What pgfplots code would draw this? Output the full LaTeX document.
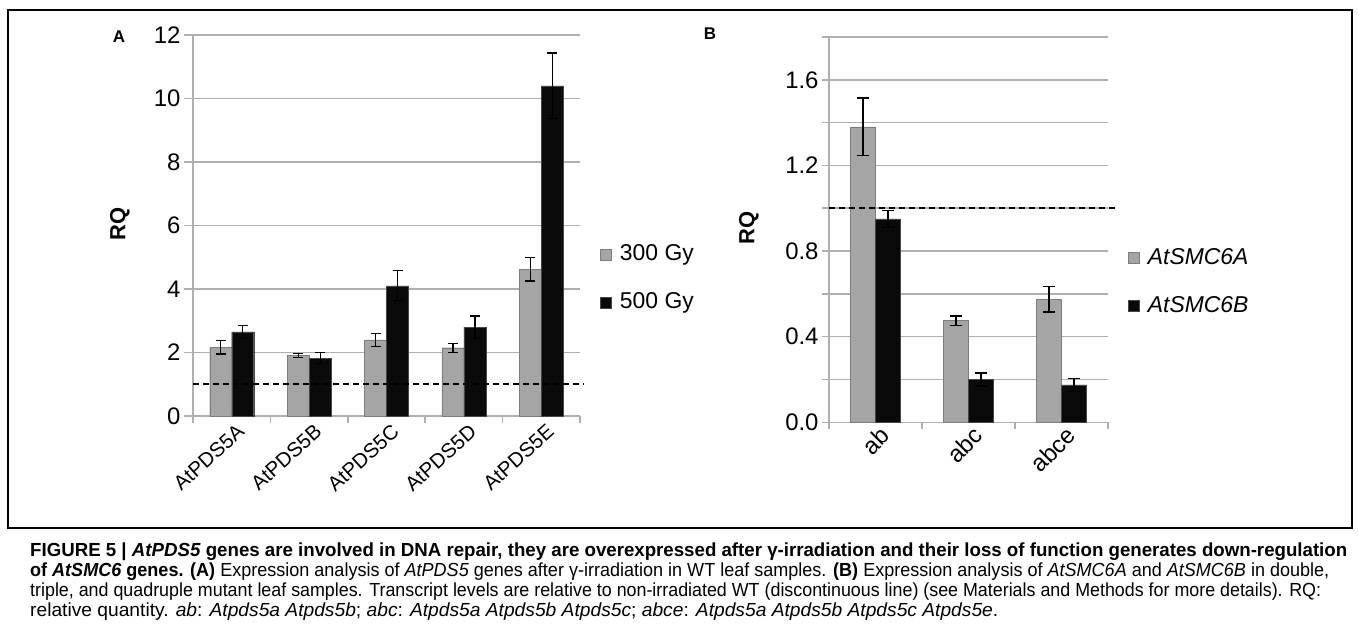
\documentclass[border=0pt]{standalone}
\usepackage{fontspec}
\setmainfont{Liberation Sans}
\usepackage{graphicx}
\usepackage{pgfplots}
\pgfplotsset{compat=1.18}
\usepackage{pgfplotstable}

\definecolor{barAedge}{RGB}{125,125,125}
\definecolor{barAfill}{RGB}{165,165,165}
\definecolor{barBedge}{RGB}{70,70,70}
\definecolor{barBfill}{RGB}{10,10,10}
\definecolor{gridc}{RGB}{175,175,175}

\pgfplotstableread{
x y300 e300 y500 e500
0 2.17 0.22 2.65 0.20
1 1.90 0.07 1.82 0.17
2 2.40 0.21 4.10 0.47
3 2.15 0.14 2.80 0.35
4 4.62 0.37 10.40 1.03
}\tabA

\pgfplotstableread{
x ya ea yb eb
0 1.38 0.135 0.95 0.04
1 0.475 0.022 0.20 0.03
2 0.575 0.06 0.175 0.03
}\tabB

\pgfplotsset{
  mystyle/.style={
    scale only axis,
    axis x line*=bottom, axis y line*=left,
    axis line style={gridc, line width=1.5bp, -},
    ymajorgrids,
    major grid style={gridc, line width=1.5bp},
    minor grid style={gridc, line width=1.5bp},
    tick style={gridc, line width=1.5bp},
    every major x tick/.append style={draw=none},
    tick align=outside,
    major tick length=9bp,
    minor tick length=7bp,
    ybar,
    clip=false,
    yticklabel style={font=\fontsize{24}{24}\selectfont},
    legend style={anchor=west, draw=none, fill=none, inner sep=0pt,
      font=\fontsize{23}{23}\selectfont, row sep=26bp,
      nodes={inner sep=0pt, text height=17bp, text depth=5bp},
      /tikz/every odd column/.append style={column sep=8bp}},
    legend cell align=left,
    legend image code/.code={\draw[#1, line width=0.6bp] (0bp,-5.5bp) rectangle (11bp,5.5bp);},
    ylabel style={font=\fontsize{22}{22}\selectfont\bfseries, anchor=center},
  },
  barA/.style={draw=barAedge, fill=barAfill},
  barB/.style={draw=barBedge, fill=barBfill},
  errA/.style={error bars/.cd, y dir=both, y explicit,
    error bar style={black, line width=1.2bp},
    error mark options={rotate=90, black, mark size=5bp, line width=1.2bp}},
  errB/.style={error bars/.cd, y dir=both, y explicit,
    error bar style={black, line width=1.2bp},
    error mark options={rotate=90, black, mark size=6bp, line width=1.2bp}},
}

\begin{document}
\begin{tikzpicture}[x=1bp,y=1bp]
\path[use as bounding box] (0,0) rectangle (1358,637);
\draw[line width=2bp] (8,109) rectangle (1352,627);

% Panel A
\begin{axis}[mystyle,
  at={(193bp,221bp)}, anchor=south west,
  width=387bp, height=381bp,
  xmin=-0.5, xmax=4.5, ymin=0, ymax=12,
  bar width=22bp,
  xtick={0,1,2,3,4},
  xticklabels={AtPDS5A,AtPDS5B,AtPDS5C,AtPDS5D,AtPDS5E},
  xticklabel style={rotate=42, anchor=north east, font=\fontsize{20.5}{20.5}\selectfont, xshift=8bp, yshift=2bp},
  minor xtick={-0.5,0.5,1.5,2.5,3.5,4.5},
  ytick={0,2,4,6,8,10,12},
  yticklabels={0,2,4,6,8,10,12},
  ylabel={RQ},
  ylabel style={at={(axis description cs:-0.189,0.504)}},
  legend style={at={(1.052,0.36)}},
]
\addplot[barA, bar shift=-11bp, errA] table[x=x, y=y300, y error=e300] {\tabA};
\addlegendentry{300 Gy}
\addplot[barB, bar shift=11bp, errA] table[x=x, y=y500, y error=e500] {\tabA};
\addlegendentry{500 Gy}
\addplot[sharp plot, black, line width=1.5bp, dash pattern=on 6bp off 4bp, forget plot] coordinates {(-0.5,1) (4.54,1)};
\end{axis}

% Panel B
\begin{axis}[mystyle,
  at={(829bp,214.7bp)}, anchor=south west,
  width=279bp, height=385.3bp,
  xmin=-0.5, xmax=2.5, ymin=0, ymax=1.8,
  bar width=25bp,
  major tick length=7bp,
  minor tick length=7bp,
  xtick={0,1,2},
  xticklabels={ab,abc,abce},
  xticklabel style={rotate=45, anchor=north east, font=\fontsize{24}{24}\selectfont, xshift=9bp, yshift=4bp},
  minor xtick={-0.5,0.5,1.5,2.5},
  ytick={0,0.4,0.8,1.2,1.6},
  yticklabels={0.0,0.4,0.8,1.2,1.6},
  minor ytick={0.2,0.6,1.0,1.4,1.8},
  yminorgrids,
  ylabel={RQ},
  ylabel style={at={(axis description cs:-0.287,0.505)}},
  legend style={at={(1.072,0.364)}},
]
\addplot[barA, bar shift=-12.5bp, errB] table[x=x, y=ya, y error=ea] {\tabB};
\addlegendentry{\textit{AtSMC6A}}
\addplot[barB, bar shift=12.5bp, errB] table[x=x, y=yb, y error=eb] {\tabB};
\addlegendentry{\textit{AtSMC6B}}
\addplot[sharp plot, black, line width=1.5bp, dash pattern=on 6bp off 4bp, forget plot] coordinates {(-0.5,1) (2.575,1)};
\end{axis}

\node[font=\bfseries\fontsize{17}{17}\selectfont] at (119,600) {A};
\node[font=\bfseries\fontsize{17}{17}\selectfont] at (710,603) {B};

% Caption
\begin{scope}[every node/.style={anchor=base west, inner sep=0pt, font=\fontsize{19}{21}\selectfont}]
\node at (30,80) {\resizebox{1317bp}{\height}{\bfseries FIGURE 5 | \textit{AtPDS5} genes are involved in DNA repair, they are overexpressed after γ-irradiation and their loss of function generates down-regulation}};
\node at (30,60) {\resizebox{1299bp}{\height}{\textbf{of \textit{AtSMC6} genes. (A)} Expression analysis of \textit{AtPDS5} genes after γ-irradiation in WT leaf samples. \textbf{(B)} Expression analysis of \textit{AtSMC6A} and \textit{AtSMC6B} in double,}};
\node at (30,40) {\resizebox{1291bp}{\height}{triple, and quadruple mutant leaf samples. Transcript levels are relative to non-irradiated WT (discontinuous line) (see Materials and Methods for more details). RQ:}};
\node at (30,20) {\resizebox{968bp}{\height}{relative quantity. \textit{ab}: \textit{Atpds5a Atpds5b}; \textit{abc}: \textit{Atpds5a Atpds5b Atpds5c}; \textit{abce}: \textit{Atpds5a Atpds5b Atpds5c Atpds5e}.}};
\end{scope}
\end{tikzpicture}
\end{document}
